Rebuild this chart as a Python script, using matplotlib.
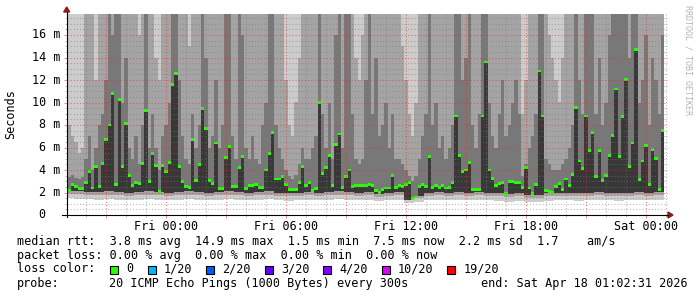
import numpy as np
import matplotlib
matplotlib.use("Agg")
import matplotlib.pyplot as plt
from matplotlib.patches import Rectangle, Polygon
from matplotlib.lines import Line2D
from matplotlib.ticker import MultipleLocator, FuncFormatter

plt.rcParams['font.family'] = ['DejaVu Sans Mono']

W, H = 697, 297

# one smoke column every 10 minutes, hours counted from Fri 00:00
start_hour = -5.085
step_hour = 10 / 60

# median rtt per column (ms)
median_ms = [
    2.25, 2.2, 2.75, 2.5, 2.35, 2.35, 2.9, 3.9, 2.4, 4.3, 2.5, 4.6, 6.7, 8.0, 10.8,
    2.7, 10.3, 4.3, 8.1, 3.5, 2.6, 2.9, 2.8, 4.6, 9.3, 2.95, 5.5, 4.4, 2.1, 4.4,
    3.85, 4.7, 11.6, 12.6, 4.3, 3.0, 2.5, 2.45, 6.75, 3.05, 4.5, 9.5, 7.7, 3.1, 2.8,
    6.4, 2.35, 2.35, 5.1, 6.1, 2.5, 2.5, 4.2, 5.2, 2.35, 2.6, 2.65, 2.75, 2.45, 2.45,
    4.0, 5.5, 7.3, 3.2, 3.2, 3.45, 2.75, 2.3, 2.3, 2.3, 2.9, 4.3, 2.65, 2.9, 2.15,
    2.35, 10.0, 3.65, 4.2, 5.25, 2.6, 6.3, 7.2, 2.45, 3.4, 4.0, 2.5, 2.6, 2.65, 2.65,
    2.65, 2.7, 2.65, 2.2, 2.0, 2.3, 2.4, 2.4, 3.5, 2.45, 2.65, 2.5, 2.7, 2.9, 1.45,
    1.6, 2.5, 2.75, 2.55, 5.2, 2.45, 2.6, 2.45, 2.6, 2.4, 2.45, 2.9, 8.8, 5.3, 3.9,
    4.0, 4.65, 2.3, 2.3, 2.3, 8.8, 13.6, 4.0, 3.25, 2.6, 2.8, 2.9, 1.95, 2.95, 3.0,
    2.9, 2.9, 2.45, 4.2, 2.4, 1.9, 2.7, 12.8, 8.8, 2.2, 2.1, 2.0, 2.5, 2.8, 2.3,
    3.2, 2.6, 3.6, 9.55, 4.8, 4.15, 8.8, 5.7, 7.3, 3.4, 5.7, 3.05, 3.5, 5.25, 7.1,
    11.2, 5.2, 8.75, 12.05, 4.35, 6.4, 14.75, 3.15, 4.8, 6.2, 2.75, 5.85, 5.0, 2.3, 7.5,
]

# upper edge of the outer smoke band (ms), 25 = above the chart
upper_outer_ms = [
    9, 8, 7, 6.5, 5.5, 6, 25, 25, 25, 12, 25, 25, 25, 25, 25,
    25, 25, 25, 25, 25, 25, 25, 16, 25, 25, 25, 25, 14, 12, 25,
    25, 25, 25, 25, 25, 25, 18, 15, 25, 25, 25, 25, 25, 25, 25,
    25, 25, 25, 25, 25, 25, 25, 25, 25, 25, 20, 25, 25, 18, 25,
    25, 25, 25, 25, 25, 25, 12, 8, 7, 10, 14, 25, 18, 25, 25,
    25, 25, 25, 25, 25, 20, 25, 25, 25, 25, 25, 25, 14, 12, 16,
    25, 25, 25, 25, 25, 25, 25, 25, 25, 25, 20, 15, 12, 9, 7,
    10, 25, 25, 25, 25, 25, 25, 25, 25, 18, 25, 25, 25, 25, 25,
    25, 25, 25, 25, 25, 25, 25, 25, 25, 25, 25, 25, 25, 25, 25,
    25, 25, 9, 12, 25, 25, 25, 25, 25, 20, 16, 14, 12, 10, 14,
    18, 25, 25, 25, 25, 25, 25, 25, 25, 25, 25, 25, 25, 25, 25,
    25, 25, 25, 25, 25, 25, 25, 25, 25, 25, 25, 25, 25, 25, 25,
]

# upper edge of the inner smoke band (ms)
upper_inner_ms = [
    3.5, 3.4, 3.6, 3.3, 3.2, 3.4, 5, 7, 4, 6, 8, 9, 12, 25, 16,
    25, 25, 10, 14, 6, 5, 7, 4.5, 8, 25, 6, 9, 6, 4, 7,
    8, 10, 25, 25, 12, 7, 5, 4.5, 9, 6, 8, 25, 14, 6, 7,
    12, 6, 8, 25, 25, 7, 5, 25, 16, 6, 5, 7, 5, 4.5, 8,
    10, 25, 25, 8, 6, 5, 4, 3.5, 3.2, 3.6, 4.5, 6, 5, 5, 6,
    7, 25, 9, 6, 10, 5, 16, 25, 6, 25, 25, 9, 5, 4.5, 5,
    12, 25, 9, 14, 7, 8, 10, 6, 9, 5, 5, 4.5, 4, 3.5, 3,
    3.5, 5, 7, 9, 25, 8, 10, 6, 7, 5, 6, 8, 25, 25, 12,
    14, 18, 8, 6, 9, 25, 25, 10, 7, 6, 9, 12, 7, 8, 10,
    12, 9, 3.5, 4.5, 6, 7, 9, 25, 25, 5, 4.5, 4, 4, 4, 4.5,
    5, 6, 8, 25, 12, 9, 25, 20, 25, 9, 14, 8, 10, 16, 25,
    25, 18, 25, 25, 14, 25, 25, 10, 12, 16, 8, 14, 12, 9, 16,
]

# lower edges of the smoke, one value per 30 minutes (ms)
low_min_ms = [
    1.5, 1.45, 1.4, 1.35, 1.4, 1.35, 1.3, 1.35, 1.4, 1.35,
    1.3, 1.35, 1.4, 1.35, 1.3, 1.35, 1.4, 1.35, 1.3, 1.35,
    1.4, 1.3, 1.25, 1.3, 1.35, 1.3, 1.35, 1.4, 1.35, 1.3,
    1.35, 1.25, 1.3, 1.35, 1.05, 1.2, 1.3, 1.35, 1.3, 1.35,
    1.3, 1.35, 1.3, 1.25, 1.2, 1.25, 1.15, 1.2, 1.25, 1.3,
    1.3, 1.25, 1.3, 1.35, 1.3, 1.25, 1.3, 1.35, 1.3, 1.35,
]
low_mid_ms = [
    1.9, 1.85, 1.8, 1.75, 1.8, 1.75, 1.7, 1.75, 1.8, 1.75,
    1.7, 1.75, 1.8, 1.75, 1.7, 1.75, 1.8, 1.75, 1.7, 1.75,
    1.8, 1.7, 1.65, 1.7, 1.75, 1.7, 1.75, 1.8, 1.75, 1.7,
    1.75, 1.6, 1.7, 1.75, 1.3, 1.55, 1.7, 1.75, 1.7, 1.75,
    1.7, 1.75, 1.7, 1.65, 1.6, 1.65, 1.5, 1.55, 1.65, 1.7,
    1.7, 1.65, 1.7, 1.75, 1.7, 1.65, 1.7, 1.75, 1.7, 1.75,
]
low_inner_ms = [
    2.1, 2.1, 2.05, 2.05, 2.1, 2.05, 2.0, 2.05, 2.1, 2.05,
    2.0, 2.05, 2.1, 2.05, 2.0, 2.05, 2.1, 2.05, 2.0, 2.05,
    2.1, 2.0, 1.95, 2.0, 2.05, 2.0, 2.05, 2.1, 2.05, 2.0,
    2.05, 1.85, 2.0, 2.05, 1.35, 1.7, 2.0, 2.05, 2.0, 2.05,
    2.0, 2.05, 2.0, 1.95, 1.9, 1.95, 1.75, 1.8, 1.95, 2.0,
    2.0, 1.95, 2.0, 2.05, 2.0, 1.95, 2.0, 2.05, 2.0, 2.05,
]

tick_hours = [0, 6, 12, 18, 24]
tick_labels = ["Fri 00:00", "Fri 06:00", "Fri 12:00", "Fri 18:00", "Sat 00:00"]

loss_labels = ["0", "1/20", "2/20", "3/20", "4/20", "10/20", "19/20"]
loss_colors = ["#26ff00", "#00b8ff", "#0059ff", "#5e00ff", "#7e00ff", "#dd00ff", "#ff0000"]

rtt_row = "median rtt:  3.8 ms avg  14.9 ms max  1.5 ms min  7.5 ms now  2.2 ms sd  1.7    am/s"
loss_row = "packet loss: 0.00 % avg  0.00 % max  0.00 % min  0.00 % now"
probe_text = "20 ICMP Echo Pings (1000 Bytes) every 300s"
end_text = "end: Sat Apr 18 01:02:31 2026"


def fx(x):
    return x / W


def fy(y):
    return 1 - y / H


fig = plt.figure(figsize=(W / 100, H / 100), dpi=100)
fig.patch.set_facecolor('white')
ax = fig.add_axes([fx(66.7), fy(215), (668 - 66.7) / W, (215 - 14) / H])
ymax = 201 / 11.25
ax.set_xlim(-(166 - 66.7) / 20, (668 - 166) / 20)
ax.set_ylim(0, ymax)

hours = start_hour + step_hour * np.arange(len(median_ms))
med = np.array(median_ms)
lo = np.repeat(low_min_ms, 3)
lmid = np.repeat(low_mid_ms, 3)
linner = np.repeat(low_inner_ms, 3)


def smoke(bottom, top, color, z):
    ax.bar(hours, np.asarray(top) - bottom, bottom=bottom, width=step_hour,
           align='edge', color=color, linewidth=0, antialiased=False, zorder=z)


smoke(lo, np.full(len(hours), ymax), '#cccccc', 1)
smoke(lmid, upper_outer_ms, '#a4a4a4', 1.1)
smoke(linner, upper_inner_ms, '#787878', 1.2)
smoke(linner, med, '#383838', 1.3)
# median drawn as a small block, coloured by loss (all 0 here)
ax.bar(hours, 0.26, bottom=med - 0.13, width=step_hour, align='edge',
       color=loss_colors[0], linewidth=0, zorder=2)

# grid on top of the smoke, like rrdtool
ax.set_axisbelow(False)
ax.xaxis.set_major_locator(MultipleLocator(3))
ax.xaxis.set_minor_locator(MultipleLocator(1))
ax.yaxis.set_major_locator(MultipleLocator(2))
ax.yaxis.set_minor_locator(MultipleLocator(0.5))
ax.grid(which='major', color='#ff2020', alpha=0.6, linestyle=(0, (1, 2)), linewidth=0.75)
ax.grid(which='minor', color='#7a7a7a', alpha=0.55, linestyle=(0, (1, 2)), linewidth=0.75)

names = dict(zip(tick_hours, tick_labels))
ax.xaxis.set_major_formatter(FuncFormatter(lambda v, p: names.get(int(round(v)), '')))
ax.tick_params(which='major', direction='out', length=2.2, width=0.7,
               color=(0.85, 0.25, 0.25, 0.6), labelsize=8.5, pad=1.5, labelleft=False)
ax.tick_params(which='minor', direction='out', length=1.5, width=0.7,
               color=(0.55, 0.55, 0.55, 0.6))
for s in ax.spines.values():
    s.set_visible(False)

# y labels in rrdtool style: "0" lines up with the digits of "2 m"
for v in range(0, 17, 2):
    label = f"{v} m" if v else "0"
    right = 60 if v else 60 - 2 * 7.1
    ax.text((right - 66.7) / (668 - 66.7), v, label, transform=ax.get_yaxis_transform(),
            ha='right', va='center', fontsize=8.5)

# axis lines and arrows
fig.add_artist(Line2D([fx(62), fx(668)], [fy(215), fy(215)], color='black', lw=0.8))
fig.add_artist(Line2D([fx(66.7), fx(66.7)], [fy(217), fy(12)], color='black', lw=0.8))
fig.add_artist(Polygon([(fx(63.7), fy(12)), (fx(69.7), fy(12)), (fx(66.7), fy(7))],
                       closed=True, color='#8b1a1a', transform=fig.transFigure))
fig.add_artist(Polygon([(fx(668), fy(212)), (fx(668), fy(218)), (fx(673), fy(215))],
                       closed=True, color='#8b1a1a', transform=fig.transFigure))

fig.text(fx(11), fy(114), "Seconds", rotation=90, ha='center', va='center', fontsize=8.5)
fig.text(fx(688), fy(5), "RRDTOOL / TOBI OETIKER", rotation=-90, ha='center', va='top',
         fontsize=6, color='#b4b4b4')

# legend block
fig.text(fx(16.6), fy(241), rtt_row, ha='left', va='center', fontsize=8.5)
fig.text(fx(16.6), fy(255), loss_row, ha='left', va='center', fontsize=8.5)
fig.text(fx(16.6), fy(269), "loss color:", ha='left', va='center', fontsize=8.5)
cursor = 110
for label, color in zip(loss_labels, loss_colors):
    fig.add_artist(Rectangle((fx(cursor), fy(273.5)), 8 / W, 8 / H, transform=fig.transFigure,
                             facecolor=color, edgecolor='black', lw=0.8))
    fig.text(fx(cursor + 16.5), fy(269), label, ha='left', va='center', fontsize=8.5)
    cursor += 16.5 + 7.0 * len(label) + 14
fig.text(fx(16.6), fy(283), "probe:", ha='left', va='center', fontsize=8.5)
fig.text(fx(108.8), fy(283), probe_text, ha='left', va='center', fontsize=8.5)
fig.text(fx(688), fy(283), end_text, ha='right', va='center', fontsize=8.5)

fig.savefig("out.png", dpi=100)
